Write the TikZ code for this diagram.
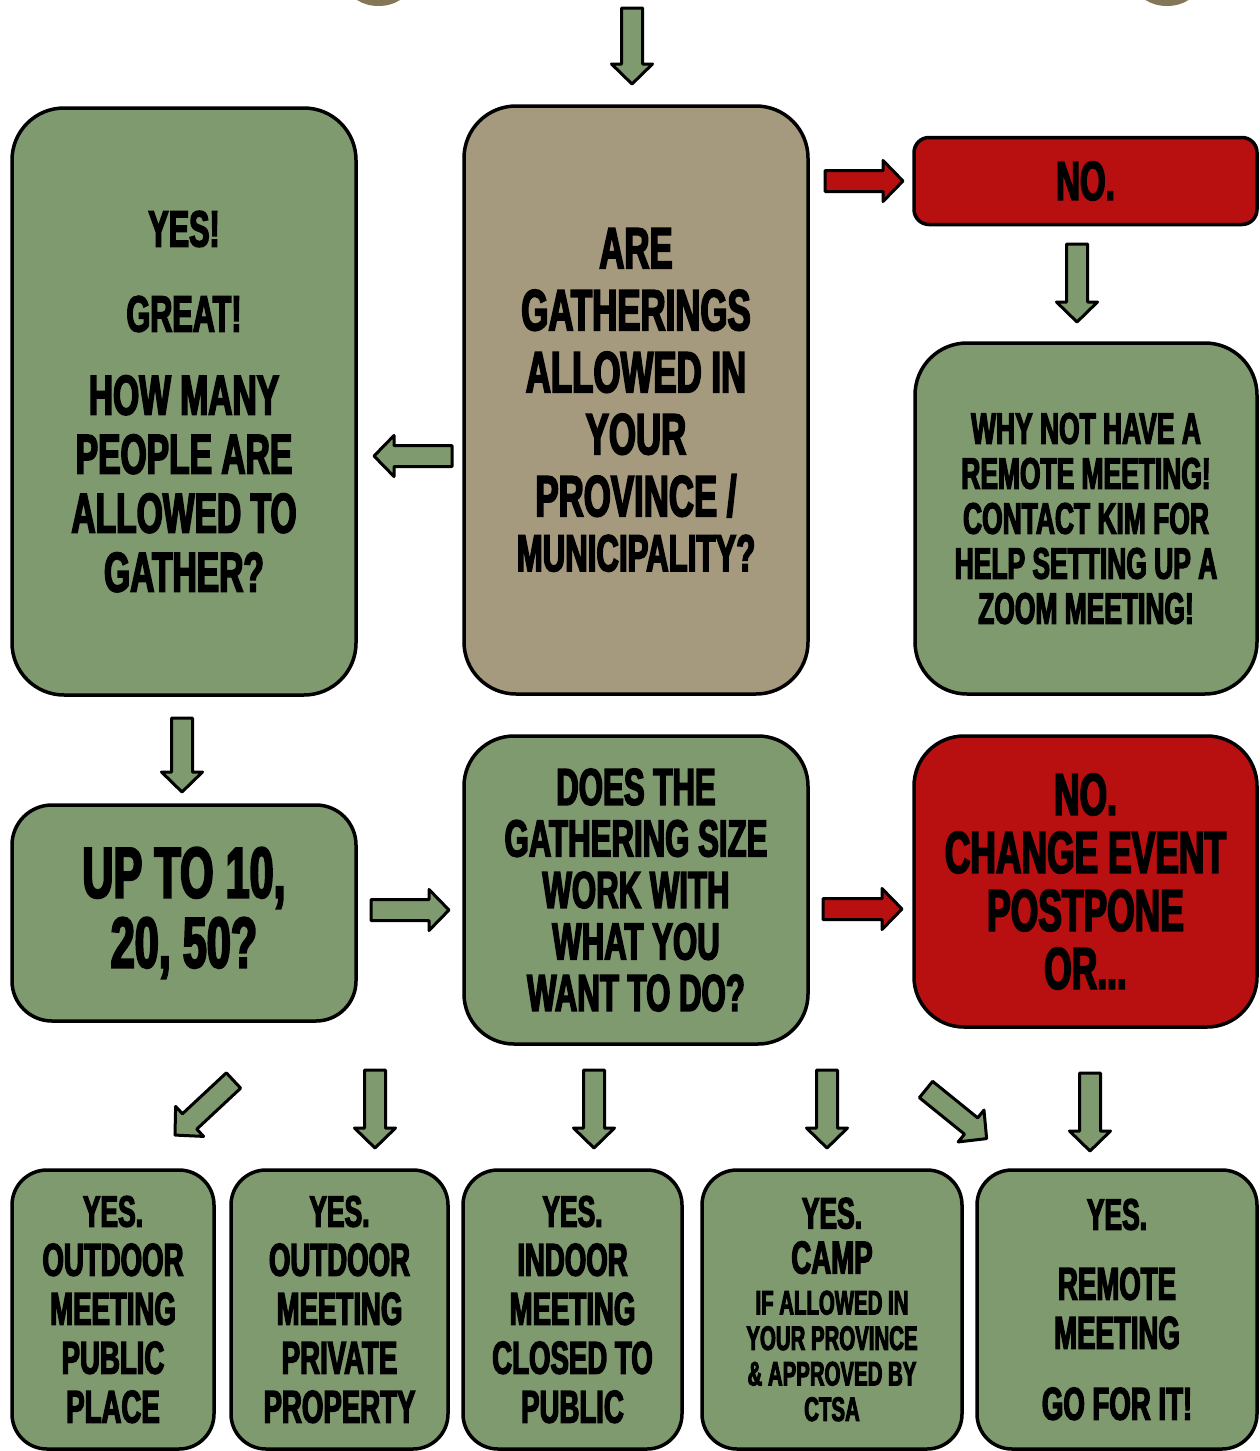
\documentclass[tikz,border=0pt]{standalone}
\usepackage{fontspec}
\newfontfamily\disp{Liberation Sans}[FakeStretch=0.6,BoldFeatures={FakeBold=2.8}]
\definecolor{grn}{HTML}{7F9A6F}
\definecolor{tan}{HTML}{A69A7E}
\definecolor{redb}{HTML}{B80F10}
\definecolor{brn}{HTML}{857657}
\tikzset{
  flowbox/.style={draw=black, line width=3.5pt, rounded corners=#1, inner sep=0pt, align=center, text=black},
  flowbox/.default=50pt,
  arrowline/.style={draw=black, line width=3pt, line join=round},
  fs/.style 2 args={font={\disp\bfseries\fontsize{#1}{#2}\selectfont}}
}
\newcommand\blockarrow[4]{%
  \draw[arrowline, fill=#4, shift={#1}, rotate=#2]
    (0,-10.5) -- ({#3-20},-10.5) -- ({#3-20},-20.5) -- (#3,0) -- ({#3-20},20.5) -- ({#3-20},10.5) -- (0,10.5) -- cycle;}
\begin{document}
\begin{tikzpicture}[x=1pt,y=-1pt]
\useasboundingbox (0,0) rectangle (1259,1451);
\begin{scope}
  \clip (0,0) rectangle (1259,1451);
  \fill[brn] (378.5,-14) ellipse [x radius=30pt, y radius=20pt];
  \fill[brn] (1167,-14) ellipse [x radius=30pt, y radius=20pt];
\end{scope}

% top row
\node[flowbox=52pt, fill=grn, minimum width=344pt, minimum height=587pt, fs={56}{59}] (yes) at (184,401.5)
  {{\fontsize{51}{59}\selectfont YES!}\\[26pt]{\fontsize{51}{59}\selectfont GREAT!}\\[24pt]HOW MANY\\PEOPLE ARE\\ALLOWED TO\\GATHER?};
\node[flowbox=52pt, fill=tan, minimum width=344pt, minimum height=588pt, fs={58}{62}] (q1) at (636,400)
  {ARE\\GATHERINGS\\ALLOWED IN\\YOUR\\PROVINCE /\\[-7pt]{\fontsize{52}{62}\selectfont MUNICIPALITY?}};
\node[flowbox=15pt, fill=redb, minimum width=343pt, minimum height=87pt, fs={55}{59}] (no1) at (1085.5,181) {NO.};
\node[flowbox=52pt, fill=grn, minimum width=342pt, minimum height=351pt, fs={44}{45}] (remote1) at (1086,518.5)
  {WHY NOT HAVE A\\REMOTE MEETING!\\CONTACT KIM FOR\\HELP SETTING UP A\\ZOOM MEETING!};

% middle row
\node[flowbox=40pt, fill=grn, minimum width=344pt, minimum height=216pt, fs={72}{70}] (upto) at (184,913)
  {UP TO 10,\\20, 50?};
\node[flowbox=50pt, fill=grn, minimum width=344pt, minimum height=308pt, fs={52}{51.5}] (q2) at (636,890)
  {DOES THE\\GATHERING SIZE\\WORK WITH\\WHAT YOU\\WANT TO DO?};
\node[flowbox=50pt, fill=redb, minimum width=343pt, minimum height=291pt, fs={59}{58}] (no2) at (1085.5,881.5)
  {NO.\\CHANGE EVENT\\POSTPONE\\OR...};

% bottom row
\node[flowbox=35pt, fill=grn, minimum width=202pt, minimum height=279pt, fs={46}{49}] (b1) at (113,1309.5)
  {{\fontsize{44}{49}\selectfont YES.}\\OUTDOOR\\MEETING\\PUBLIC\\PLACE};
\node[flowbox=35pt, fill=grn, minimum width=217pt, minimum height=279pt, fs={46}{49}] (b2) at (339.5,1309.5)
  {{\fontsize{44}{49}\selectfont YES.}\\OUTDOOR\\MEETING\\PRIVATE\\PROPERTY};
\node[flowbox=35pt, fill=grn, minimum width=219pt, minimum height=279pt, fs={46}{49}] (b3) at (572.5,1309.5)
  {{\fontsize{44}{49}\selectfont YES.}\\INDOOR\\MEETING\\CLOSED TO\\PUBLIC};
\node[flowbox=35pt, fill=grn, minimum width=260pt, minimum height=279pt, fs={34}{35.5}] (b4) at (832,1309.5)
  {{\fontsize{44}{49}\selectfont YES.}\\[9.5pt]{\fontsize{46}{49}\selectfont CAMP}\\[5.5pt]IF ALLOWED IN\\YOUR PROVINCE\\\& APPROVED BY\\CTSA};
\node[flowbox=35pt, fill=grn, minimum width=280pt, minimum height=279pt, fs={46}{49}] (b5) at (1117,1309.5)
  {{\fontsize{44}{49}\selectfont YES.}\\[21pt]REMOTE\\MEETING\\[22pt]GO FOR IT!};

% block arrows
\blockarrow{(632,8)}{-90}{76}{grn}
\blockarrow{(825,181)}{0}{78}{redb}
\blockarrow{(1077,244)}{-90}{78}{grn}
\blockarrow{(452,456)}{180}{78}{grn}
\blockarrow{(182,718)}{-90}{74}{grn}
\blockarrow{(371,910)}{0}{78}{grn}
\blockarrow{(823,909)}{0}{79}{redb}
\blockarrow{(233.5,1080.5)}{223}{80}{grn}
\blockarrow{(375,1070)}{-90}{78}{grn}
\blockarrow{(594,1070)}{-90}{78}{grn}
\blockarrow{(827,1070)}{-90}{78}{grn}
\blockarrow{(926,1089.5)}{-39}{78}{grn}
\blockarrow{(1090,1073)}{-90}{78}{grn}
\end{tikzpicture}
\end{document}
